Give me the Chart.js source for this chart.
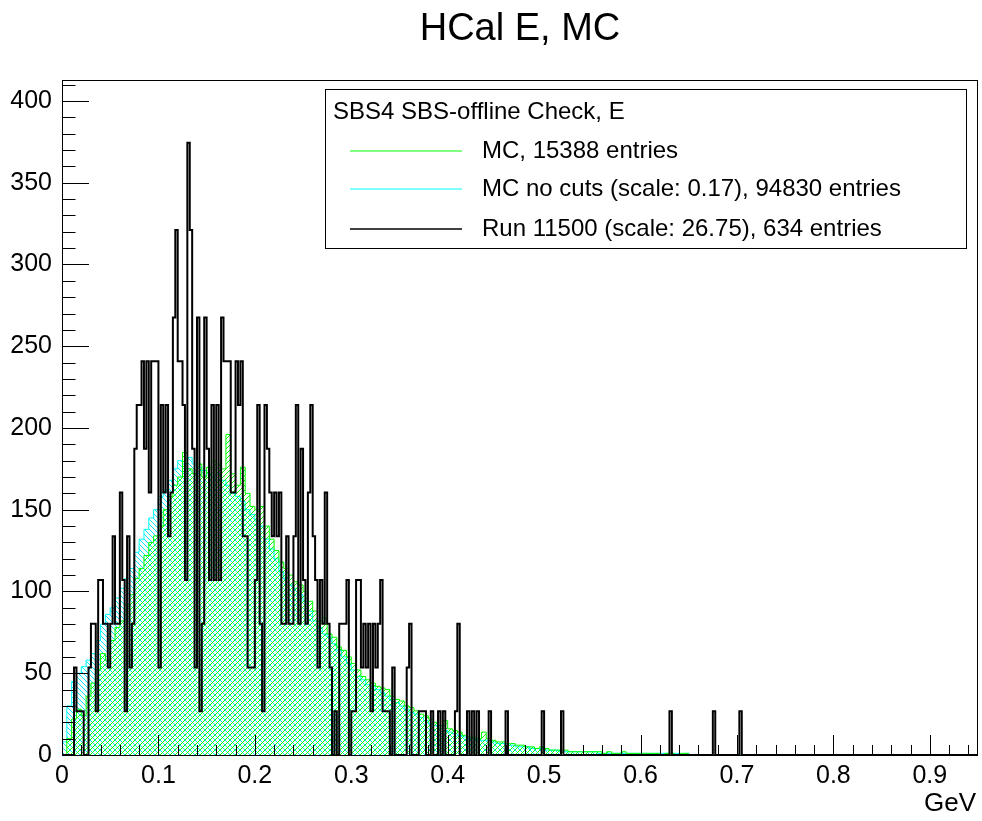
<!DOCTYPE html>
<html>
<head>
<meta charset="utf-8">
<title>HCal E, MC</title>
<script src="https://cdn.jsdelivr.net/npm/chart.js@4.4.0/dist/chart.umd.min.js"></script>
<style>
  html, body { margin: 0; padding: 0; background: #fff; }
</style>
</head>
<body>
<canvas id="myChart" width="982" height="821"></canvas>
<script>
// histogram binning (GeV)
var runBinWidth = 0.0025;
var mcBinWidth = 0.005;
var xMax = 0.95;
var yMax = 412.8;
var runScale = 26.75;

// Run 11500, raw entries per 0.0025 GeV bin starting at 0 (drawn x 26.75)
var runCounts = [
  0,0,0,0,0,2,1,1,1,0,
  0,2,3,3,1,4,4,3,3,2,
  3,5,3,3,6,4,1,5,2,3,
  7,8,8,9,7,9,6,9,9,9,
  2,8,6,8,5,6,10,12,9,9,
  8,4,14,12,7,2,10,1,3,10,
  7,4,8,4,8,4,10,9,9,9,
  6,6,9,8,9,5,5,2,2,2,
  4,8,3,1,8,7,6,5,6,5,
  6,3,3,5,3,3,5,8,3,7,
  4,3,6,8,5,4,2,4,3,6,
  3,2,0,1,0,3,3,3,4,0,
  1,1,4,4,2,3,2,3,1,3,
  2,3,4,1,1,1,0,2,0,0,
  0,0,0,2,3,0,0,0,1,1,
  1,0,0,1,0,0,1,0,1,0,
  0,0,0,1,3,0,0,0,1,0,
  1,0,1,0,0,0,0,1,0,0,
  0,0,0,0,1,0,0,0,0,0,
  0,0,0,0,0,0,0,0,0,1,
  0,0,0,0,0,0,0,1,0,0,
  0,0,0,0,0,0,0,0,0,0,
  0,0,0,0,0,0,0,0,0,0,
  0,0,0,0,0,0,0,0,0,0,
  0,0,0,0,0,0,0,0,0,0,
  0,0,1,0,0,0,0,0,0,0,
  0,0,0,0,0,0,0,0,0,0,
  1,0,0,0,0,0,0,0,0,0,
  0,1
];

// MC (with cuts), per 0.005 GeV bin
var mcCuts = [
  0,10,22,28,24,36,44,52,62,58,
  70,78,82,92,98,108,114,122,130,134,
  140,150,158,165,170,185,175,172,178,170,
  176,180,178,175,196,172,165,176,160,152,
  150,152,140,132,125,118,114,110,106,104,
  100,94,88,82,84,74,72,66,64,60,
  56,52,48,46,44,42,41,40,36,34,
  33,30,29,27,25,24,22,20,18,21,
  16,15,14,12,11,11,10,14,10,9,
  8,8,7,7,6,6,5,5,4,5,
  4,3,3,3,3,2,2,2,2,2,
  2,2,1,2,1,1,2,1,1,1,
  1,1,1,1,0,1,1,0,1,1
];

// MC no cuts (scale 0.17), per 0.005 GeV bin
var mcNoCuts = [
  8,30,45,50,54,58,62,70,80,86,
  90,96,102,108,114,124,132,138,145,150,
  158,162,168,175,180,178,182,178,176,174,
  172,170,172,168,165,160,158,155,150,147,
  143,140,132,126,120,112,108,104,102,98,
  94,88,82,78,74,72,68,64,60,56,
  52,48,46,43,42,40,38,36,34,32,
  30,28,26,25,23,21,19,18,16,15,
  14,13,12,11,10,10,9,9,9,8,
  7,7,6,6,5,5,5,4,4,4,
  3,3,3,2,2,2,2,2,2,2,
  2,1,1,1,1,1,1,1,1,1,
  1,1,1,1,1,1,1,1,0,1
];

var legendHeader = 'SBS4 SBS-offline Check, E';
var legendLabels = ['MC, 15388 entries', 'MC no cuts (scale: 0.17), 94830 entries', 'Run 11500 (scale: 26.75), 634 entries'];
var legendColors = ['#00ff00', '#00ffff', '#000000'];

var FONT = "'Liberation Sans', Arial, Helvetica, sans-serif";

// histogram bins -> step points (left edges), closed at the right end
function histPoints(values, width, scale) {
    var pts = [];
    for (var i = 0; i < values.length; i++) {
        pts.push({x: i * width, y: values[i] * scale});
    }
    pts.push({x: values.length * width, y: 0});
    pts.push({x: xMax, y: 0});
    return pts;
}

function hatchPattern(color, dir) {
    var s = 5;
    var c = document.createElement('canvas');
    c.width = s; c.height = s;
    var g = c.getContext('2d');
    g.strokeStyle = color;
    g.lineWidth = 1;
    g.beginPath();
    if (dir > 0) {
        // "/" hatch
        g.moveTo(-1, s + 1); g.lineTo(s + 1, -1);
        g.moveTo(-1, 1); g.lineTo(1, -1);
        g.moveTo(s - 1, s + 1); g.lineTo(s + 1, s - 1);
    } else {
        // "\" hatch
        g.moveTo(-1, -1); g.lineTo(s + 1, s + 1);
        g.moveTo(s - 1, -1); g.lineTo(s + 1, 1);
        g.moveTo(-1, s - 1); g.lineTo(1, s + 1);
    }
    g.stroke();
    return g.createPattern(c, 'repeat');
}

// ROOT-like frame, inward ticks, title, axis title and legend box
var rootStyle = {
    id: 'rootStyle',
    afterDatasetsDraw: function (chart) {
        var ctx = chart.ctx;
        var a = chart.chartArea;
        var xs = chart.scales.x, ys = chart.scales.y;
        ctx.save();
        ctx.strokeStyle = '#000';
        ctx.lineWidth = 1;
        ctx.strokeRect(a.left + 0.5, a.top + 0.5, a.right - a.left - 1, a.bottom - a.top);
        ctx.beginPath();
        for (var v = 0; v <= 410; v += 10) {
            var py = Math.round(ys.getPixelForValue(v)) + 0.5;
            var len = (v % 50 === 0) ? 27 : 13.5;
            ctx.moveTo(a.left, py); ctx.lineTo(a.left + len, py);
        }
        for (var i = 0; i <= 47; i++) {
            var px = Math.round(xs.getPixelForValue(i * 0.02)) + 0.5;
            var lx = (i % 5 === 0) ? 20 : 10;
            ctx.moveTo(px, a.bottom); ctx.lineTo(px, a.bottom - lx);
        }
        ctx.stroke();
        ctx.restore();
    },
    afterDraw: function (chart) {
        var ctx = chart.ctx;
        var a = chart.chartArea;
        ctx.save();
        ctx.fillStyle = '#000';
        ctx.font = '38px ' + FONT;
        ctx.textAlign = 'center';
        ctx.textBaseline = 'alphabetic';
        ctx.fillText('HCal E, MC', (a.left + a.right) / 2, 40);

        ctx.font = '26px ' + FONT;
        ctx.textAlign = 'right';
        ctx.fillText('GeV', 976, 811);

        // legend
        var bx = 325.5, by = 89.5, bw = 641, bh = 159;
        ctx.fillStyle = '#fff';
        ctx.fillRect(bx, by, bw, bh);
        ctx.strokeStyle = '#000';
        ctx.lineWidth = 1;
        ctx.strokeRect(bx, by, bw, bh);
        ctx.fillStyle = '#000';
        ctx.textAlign = 'left';
        ctx.textBaseline = 'middle';
        ctx.font = '24px ' + FONT;
        ctx.fillText(legendHeader, 333, 112);
        var rows = [151, 189, 229];
        for (var k = 0; k < legendLabels.length; k++) {
            ctx.strokeStyle = legendColors[k];
            ctx.lineWidth = k === 2 ? 1.5 : 1;
            ctx.beginPath();
            ctx.moveTo(350, rows[k]);
            ctx.lineTo(462, rows[k]);
            ctx.stroke();
            ctx.fillStyle = '#000';
            ctx.fillText(legendLabels[k], 482, rows[k]);
        }
        ctx.restore();
    }
};

var ctx = document.getElementById('myChart').getContext('2d');

var myChart = new Chart(ctx, {
    type: 'line',
    data: {
        datasets: [{
            label: legendLabels[2],
            data: histPoints(runCounts, runBinWidth, runScale),
            stepped: 'before',
            borderColor: '#000',
            borderWidth: 2,
            fill: false,
            order: 0
        }, {
            label: legendLabels[0],
            data: histPoints(mcCuts, mcBinWidth, 1),
            stepped: 'before',
            borderColor: '#00ff00',
            borderWidth: 1,
            backgroundColor: hatchPattern('#00ff00', 1),
            fill: 'origin',
            order: 1
        }, {
            label: legendLabels[1],
            data: histPoints(mcNoCuts, mcBinWidth, 1),
            stepped: 'before',
            borderColor: '#00ffff',
            borderWidth: 1,
            backgroundColor: hatchPattern('#00e8ff', -1),
            fill: 'origin',
            order: 2
        }]
    },
    options: {
        responsive: false,
        animation: false,
        layout: { padding: { top: 80, right: 4, left: 0, bottom: 0 } },
        elements: { point: { radius: 0 }, line: { tension: 0 } },
        plugins: {
            legend: { display: false },
            title: { display: false },
            tooltip: { enabled: false }
        },
        scales: {
            x: {
                type: 'linear',
                min: 0,
                max: xMax,
                grid: { display: false, drawTicks: false },
                border: { display: false },
                ticks: {
                    stepSize: 0.1,
                    includeBounds: false,
                    padding: 6,
                    maxRotation: 0,
                    color: '#000',
                    font: { family: FONT, size: 25 },
                    callback: function (v) { return String(Math.round(v * 10) / 10); }
                },
                afterFit: function (s) { s.height = 66; }
            },
            y: {
                min: 0,
                max: yMax,
                grid: { display: false, drawTicks: false },
                border: { display: false },
                ticks: {
                    stepSize: 50,
                    includeBounds: false,
                    padding: 10,
                    color: '#000',
                    font: { family: FONT, size: 25 }
                },
                afterFit: function (s) { s.width = 62; }
            }
        }
    },
    plugins: [rootStyle]
});
</script>
</body>
</html>
